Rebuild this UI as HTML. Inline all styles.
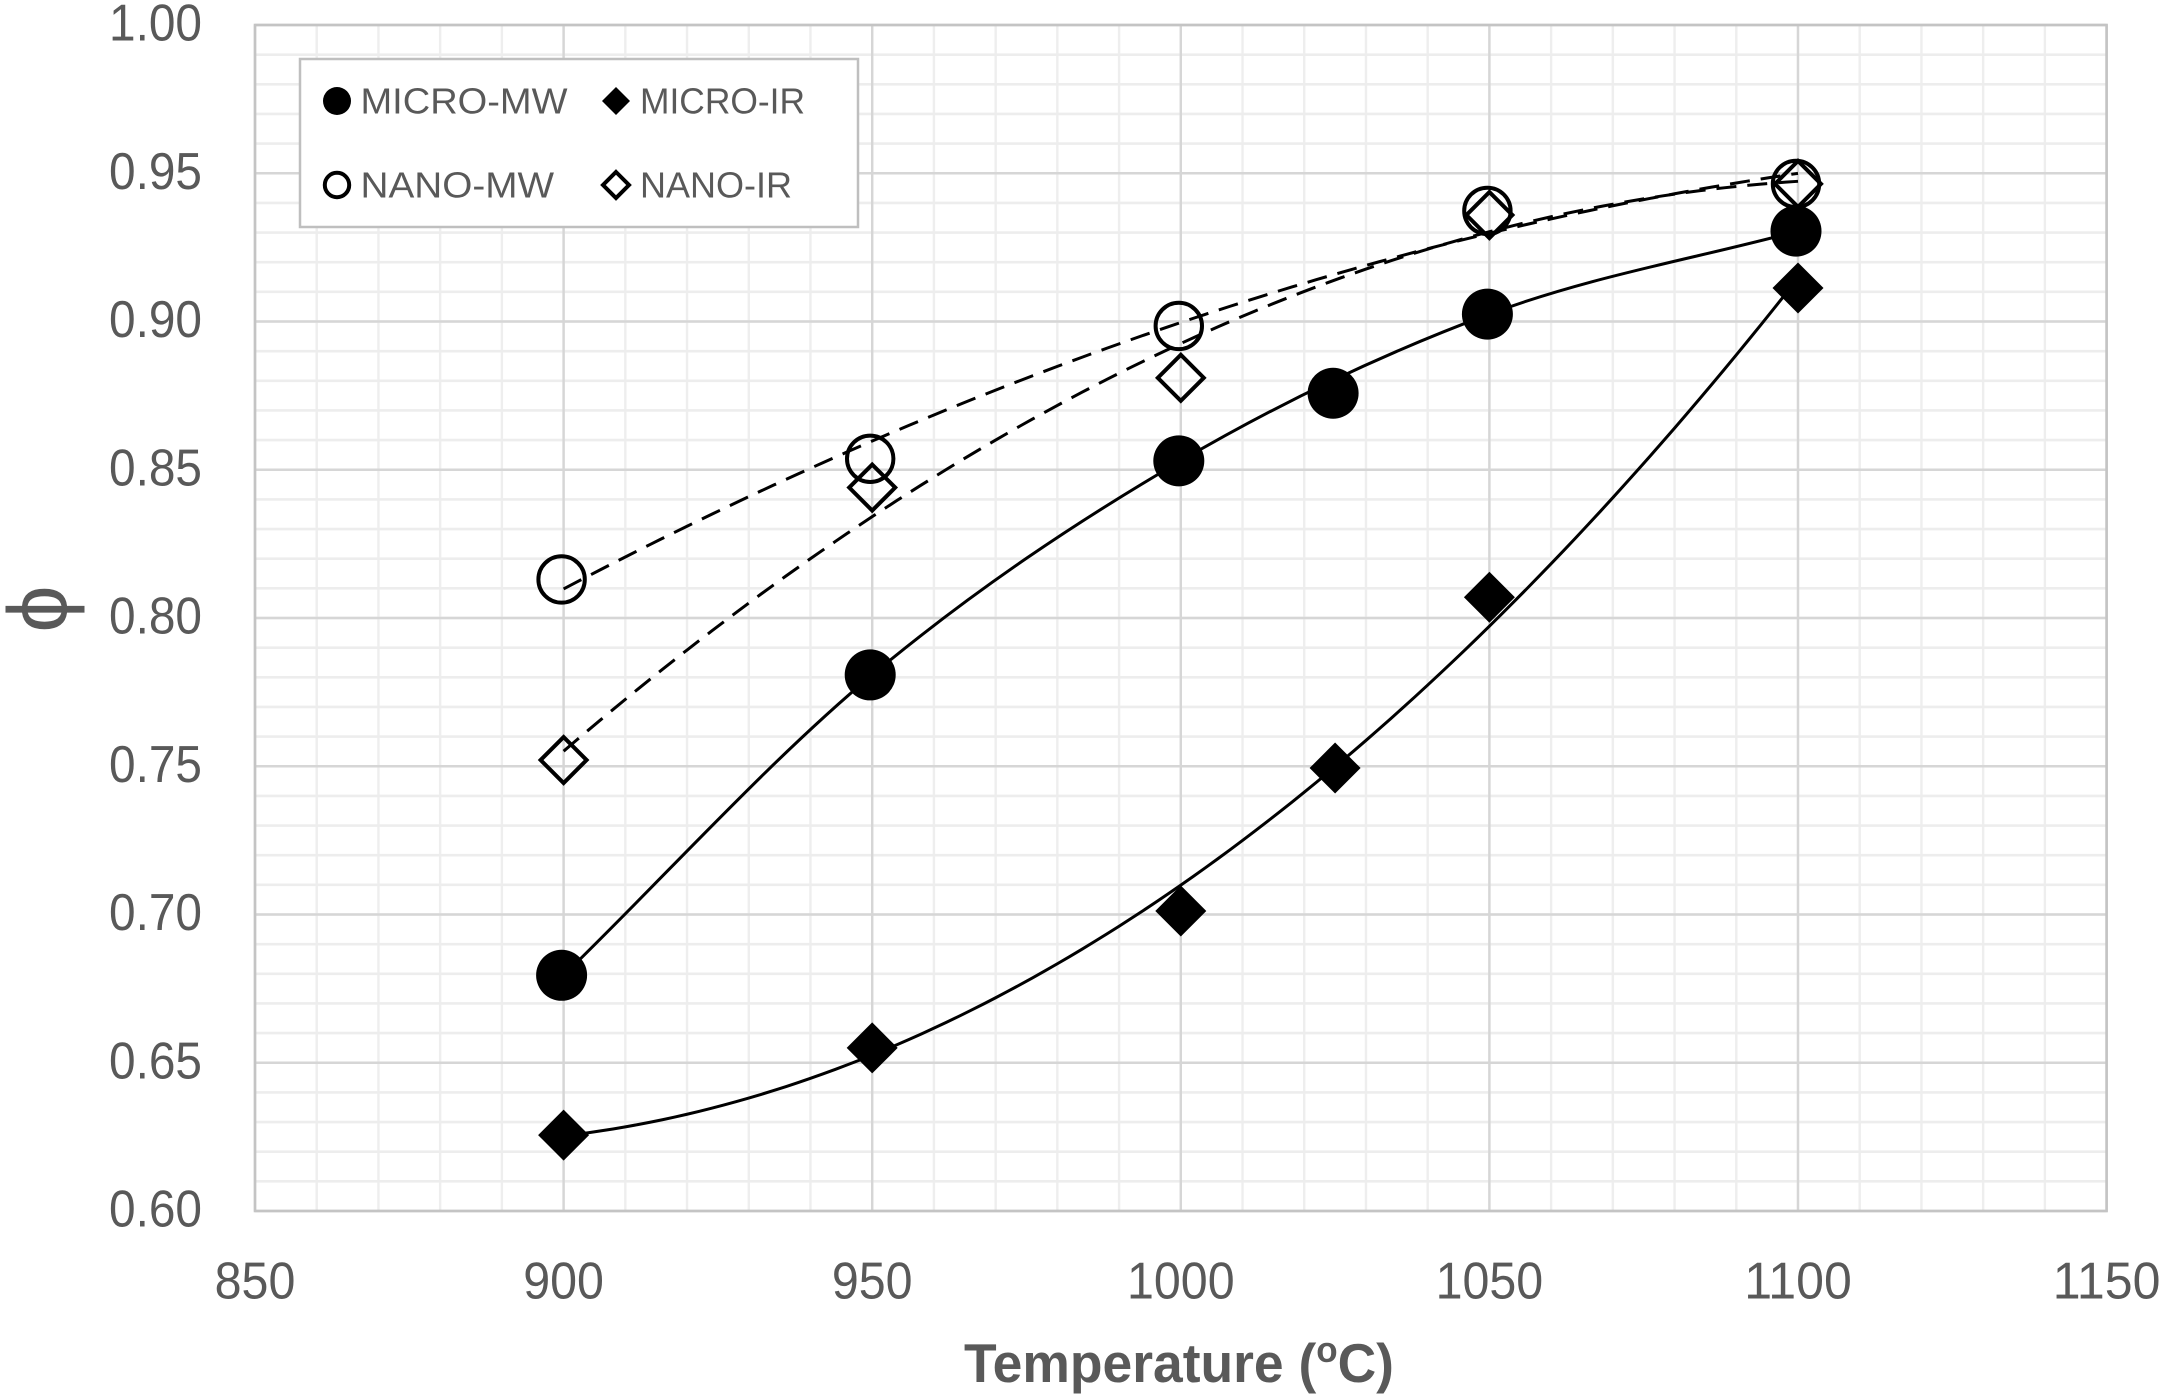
<!DOCTYPE html>
<html lang="en">
<head>
<meta charset="utf-8">
<title>Phi vs Temperature</title>
<style>
html,body{margin:0;padding:0;background:#fff;width:2167px;height:1399px;overflow:hidden}
svg{display:block}
text{font-family:"Liberation Sans",sans-serif;fill:#595959}
</style>
</head>
<body>
<svg id="chart" xmlns="http://www.w3.org/2000/svg" width="2167" height="1399" viewBox="0 0 2167 1399">
  <g id="grid"></g>
  <g id="frame"></g>
  <g id="trends"></g>
  <g id="marks"></g>
  <g id="ticks"></g>
  <text x="964" y="1382" font-size="55" font-weight="bold" textLength="430" lengthAdjust="spacingAndGlyphs">Temperature (<tspan font-size="36" dy="-20">o</tspan><tspan dy="20">C)</tspan></text>
  <text transform="translate(16 609) rotate(-90)" text-anchor="middle" font-size="84" dominant-baseline="central" dy="22">ϕ</text>
  <g id="legend">
    <rect x="300" y="59" width="558" height="168" fill="#fff" stroke="#bfbfbf" stroke-width="2.5"/>
    <circle cx="337" cy="101" r="14" fill="#000"/>
    <text x="360.5" y="113.5" font-size="36" textLength="207" lengthAdjust="spacingAndGlyphs">MICRO-MW</text>
    <polygon points="616,87 630,101 616,115 602,101" fill="#000"/>
    <text x="640" y="113.5" font-size="36" textLength="165" lengthAdjust="spacingAndGlyphs">MICRO-IR</text>
    <circle cx="337" cy="185" r="12.2" fill="none" stroke="#000" stroke-width="4"/>
    <text x="360.5" y="197.5" font-size="36" textLength="193.5" lengthAdjust="spacingAndGlyphs">NANO-MW</text>
    <polygon points="616,172 629,185 616,198 603,185" fill="none" stroke="#000" stroke-width="4"/>
    <text x="640" y="197.5" font-size="36" textLength="152" lengthAdjust="spacingAndGlyphs">NANO-IR</text>
  </g>
</svg>
<script>
const xTicks = [850, 900, 950, 1000, 1050, 1100, 1150];
const yTicks = [0.60, 0.65, 0.70, 0.75, 0.80, 0.85, 0.90, 0.95, 1.00];
const xMinorStep = 10;
const yMinorStep = 0.01;

const microMwTemps = [900, 950, 1000, 1025, 1050, 1100];
const microMwValues = [0.6795, 0.7808, 0.853, 0.8758, 0.9025, 0.9305];
const microMwCurveTemps = [900, 950, 1000, 1050, 1100];
const microIrTemps = [900, 950, 1000, 1025, 1050, 1100];
const microIrValues = [0.6256, 0.655, 0.7012, 0.7494, 0.807, 0.9113];
const nanoMwTemps = [900, 950, 1000, 1050, 1100];
const nanoMwValues = [0.813, 0.8537, 0.8985, 0.9373, 0.9464];
const nanoIrTemps = [900, 950, 1000, 1050, 1100];
const nanoIrValues = [0.7521, 0.844, 0.881, 0.9359, 0.9464];

const NS = 'http://www.w3.org/2000/svg';
const X0 = 255, X1 = 2106.6, Y0 = 1211, Y1 = 25;
const xMin = xTicks[0], xMax = xTicks[xTicks.length - 1];
const yMin = yTicks[0], yMax = yTicks[yTicks.length - 1];
function xScale(v) { return X0 + (v - xMin) / (xMax - xMin) * (X1 - X0); }
function yScale(v) { return Y0 - (v - yMin) / (yMax - yMin) * (Y0 - Y1); }

function make(tag, parent, attrs) {
  const el = document.createElementNS(NS, tag);
  for (const k in attrs) el.setAttribute(k, attrs[k]);
  parent.appendChild(el);
  return el;
}

const gridG = document.getElementById('grid');
const frameG = document.getElementById('frame');
const trendG = document.getElementById('trends');
const markG = document.getElementById('marks');
const tickG = document.getElementById('ticks');

/* minor gridlines */
for (let v = xMin + xMinorStep; v < xMax - 1e-6; v += xMinorStep) {
  const el = make('line', gridG, {x1: xScale(v), x2: xScale(v), y1: Y1, y2: Y0, stroke: '#eeeeee', 'stroke-width': 2.4});
  
  
}
for (let v = yMin + yMinorStep; v < yMax - 1e-6; v += yMinorStep) {
  const el = make('line', gridG, {x1: X0, x2: X1, y1: yScale(v), y2: yScale(v), stroke: '#ededed', 'stroke-width': 2.6});
  
  
}
/* major gridlines and tick labels */
xTicks.forEach(function (t) {
  const el = make('line', gridG, {x1: xScale(t), x2: xScale(t), y1: Y1, y2: Y0, stroke: '#d6d6d6', 'stroke-width': 2.4});
  
  
  const s = String(t);
  const lab = make('text', tickG, {x: xScale(t), y: 1298.5, 'text-anchor': 'middle', 'font-size': 52, textLength: s.length * 26.9, lengthAdjust: 'spacingAndGlyphs'});
  lab.textContent = s;
  
  
});
yTicks.forEach(function (t) {
  const el = make('line', gridG, {x1: X0, x2: X1, y1: yScale(t), y2: yScale(t), stroke: '#d6d6d6', 'stroke-width': 2.6});
  
  
  const lab = make('text', tickG, {x: 202, y: yScale(t) + 15.5, 'text-anchor': 'end', 'font-size': 52, textLength: 93, lengthAdjust: 'spacingAndGlyphs'});
  lab.textContent = t.toFixed(2);
  
  
});
const border = make('rect', frameG, {x: X0, y: Y1, width: X1 - X0, height: Y0 - Y1, fill: 'none', stroke: '#c4c4c4', 'stroke-width': 2.6});



/* least-squares polynomial trendline */
function polyfit(xs, ys, deg) {
  const n = deg + 1, c = xs.reduce(function (a, b) { return a + b; }, 0) / xs.length;
  const A = [];
  for (let i = 0; i < n; i++) {
    A.push(new Array(n + 1).fill(0));
    for (let j = 0; j < n; j++) {
      xs.forEach(function (x) { A[i][j] += Math.pow((x - c) / 100, i + j); });
    }
    xs.forEach(function (x, k) { A[i][n] += ys[k] * Math.pow((x - c) / 100, i); });
  }
  for (let i = 0; i < n; i++) {
    let p = i;
    for (let r = i + 1; r < n; r++) if (Math.abs(A[r][i]) > Math.abs(A[p][i])) p = r;
    const tmp = A[i]; A[i] = A[p]; A[p] = tmp;
    for (let r = 0; r < n; r++) {
      if (r === i) continue;
      const f = A[r][i] / A[i][i];
      for (let q = i; q <= n; q++) A[r][q] -= f * A[i][q];
    }
  }
  const coef = A.map(function (row, i) { return row[n] / row[i]; });
  return function (x) {
    return coef.reduce(function (s, k, i) { return s + k * Math.pow((x - c) / 100, i); }, 0);
  };
}
function trendPath(xs, ys, deg) {
  const f = polyfit(xs, ys, deg), a = Math.min.apply(null, xs), b = Math.max.apply(null, xs);
  let d = '';
  for (let i = 0; i <= 100; i++) {
    const x = a + (b - a) * i / 100;
    d += (i ? 'L' : 'M') + xScale(x).toFixed(2) + ' ' + yScale(f(x)).toFixed(2);
  }
  return d;
}
/* smooth curve through points: Hermite with finite-difference slopes */
function smoothPath(xs, ys) {
  const p = xs.map(function (x, i) { return [xScale(x), yScale(ys[i])]; });
  const last = p.length - 1;
  const m = p.map(function (q, i) {
    const a = p[Math.max(i - 1, 0)], b = p[Math.min(i + 1, last)];
    return (b[1] - a[1]) / (b[0] - a[0]);
  });
  let d = 'M' + p[0][0].toFixed(2) + ' ' + p[0][1].toFixed(2);
  for (let i = 0; i < last; i++) {
    const h = (p[i + 1][0] - p[i][0]) / 3;
    d += 'C' + (p[i][0] + h).toFixed(2) + ' ' + (p[i][1] + m[i] * h).toFixed(2) +
         ' ' + (p[i + 1][0] - h).toFixed(2) + ' ' + (p[i + 1][1] - m[i + 1] * h).toFixed(2) +
         ' ' + p[i + 1][0].toFixed(2) + ' ' + p[i + 1][1].toFixed(2);
  }
  return d;
}
const microMwCurveValues = microMwCurveTemps.map(function (t) {
  return microMwValues[microMwTemps.indexOf(t)];
});

const t1 = make('path', trendG, {d: trendPath(nanoMwTemps, nanoMwValues, 2), fill: 'none', stroke: '#000', 'stroke-width': 3, 'stroke-dasharray': '20 11'});


const t2 = make('path', trendG, {d: trendPath(nanoIrTemps, nanoIrValues, 2), fill: 'none', stroke: '#000', 'stroke-width': 3, 'stroke-dasharray': '20 11'});


const t3 = make('path', trendG, {d: smoothPath(microMwCurveTemps, microMwCurveValues), fill: 'none', stroke: '#000', 'stroke-width': 3});


const t4 = make('path', trendG, {d: trendPath(microIrTemps, microIrValues, 2), fill: 'none', stroke: '#000', 'stroke-width': 3});



/* markers */
function diamondPoints(cx, cy, h) {
  return [cx, cy - h, cx + h, cy, cx, cy + h, cx - h, cy].join(',');
}
nanoMwTemps.forEach(function (t, i) {
  const el = make('circle', markG, {cx: xScale(t) - 2, cy: yScale(nanoMwValues[i]), r: 23.2, fill: 'none', stroke: '#000', 'stroke-width': 4});
  
  
});
nanoIrTemps.forEach(function (t, i) {
  const el = make('polygon', markG, {points: diamondPoints(xScale(t), yScale(nanoIrValues[i]), 23), fill: 'none', stroke: '#000', 'stroke-width': 4});
  
  
});
microMwTemps.forEach(function (t, i) {
  const el = make('circle', markG, {cx: xScale(t) - 2, cy: yScale(microMwValues[i]), r: 25.5, fill: '#000'});
  
  
});
microIrTemps.forEach(function (t, i) {
  const el = make('polygon', markG, {points: diamondPoints(xScale(t), yScale(microIrValues[i]), 25.5), fill: '#000'});
  
  
});
</script>
</body>
</html>
